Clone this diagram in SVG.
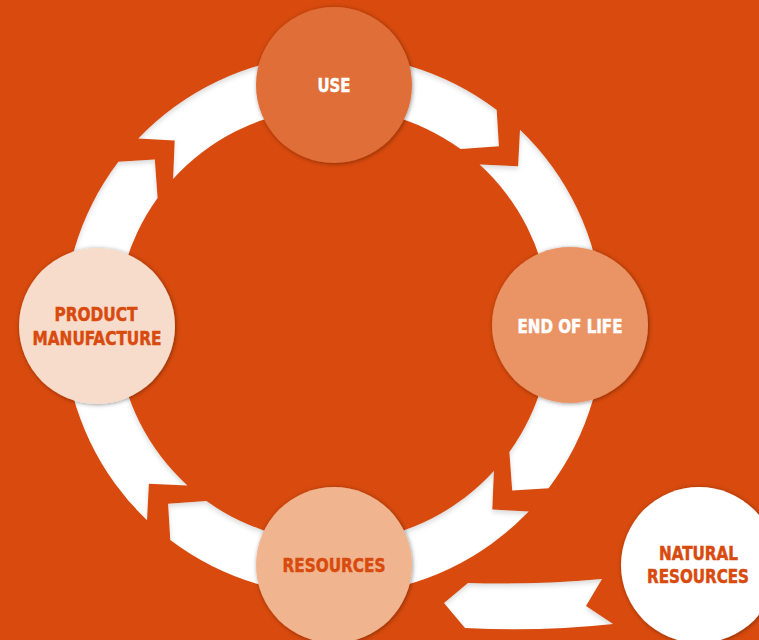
<svg xmlns="http://www.w3.org/2000/svg" width="759" height="640" viewBox="0 0 759 640">
<style>
.bg{fill:#D84A0D}
.arrow{fill:#FFFFFF;filter:url(#inset)}
.node circle{filter:url(#drop)}
.lbl{font-family:"Liberation Sans Narrow","DejaVu Sans Condensed","Liberation Sans",sans-serif;font-weight:bold;font-size:20px;text-anchor:middle;stroke-width:0.5px}
.light{fill:#FFFFFF;stroke:#FFFFFF}
.dark{fill:#D84A0D;stroke:#D84A0D}
.small{font-size:19.5px}
</style>
<defs>
<filter id="inset" x="-5%" y="-5%" width="110%" height="110%">
<feOffset in="SourceAlpha" dx="0" dy="3"/>
<feGaussianBlur stdDeviation="2.5" result="ob"/>
<feComposite in="SourceAlpha" in2="ob" operator="out" result="inv"/>
<feFlood flood-color="#000000" flood-opacity="0.3"/>
<feComposite in2="inv" operator="in" result="sh"/>
<feMerge><feMergeNode in="SourceGraphic"/><feMergeNode in="sh"/></feMerge>
</filter>
<filter id="drop" x="-10%" y="-10%" width="120%" height="120%">
<feDropShadow dx="0.8" dy="0.8" stdDeviation="2.2" flood-color="#000000" flood-opacity="0.4"/>
</filter>
</defs>
<rect class="bg" x="0" y="0" width="759" height="640"/>
<g id="connectors">
<path class="arrow" d="M138.3,138.5 A270,270 0 0 1 496.7,109.9 L498.9,146.3 L460.6,149.1 A217,217 0 0 0 173.1,178.9 L174.7,140.4 Z"/>
<path class="arrow" d="M520.0,129.8 A270,270 0 0 1 548.6,488.2 L512.2,490.4 L509.4,452.1 A217,217 0 0 0 479.6,164.6 L518.1,166.2 Z"/>
<path class="arrow" d="M528.7,511.5 A270,270 0 0 1 170.3,540.1 L168.1,503.7 L206.4,500.9 A217,217 0 0 0 493.9,471.1 L492.3,509.6 Z"/>
<path class="arrow" d="M147.0,520.2 A270,270 0 0 1 118.4,161.8 L154.8,159.6 L157.6,197.9 A217,217 0 0 0 187.4,485.4 L148.9,483.8 Z"/>
<path class="arrow" d="M602,579 L586,606 L613,624 Q540,632 465,628 L444,603 L468,583 Q535,585 602,579 Z"/>
</g>
<g id="use" class="node">
<circle cx="334" cy="85" r="78" fill="#E06E38"/>
<text class="lbl light" x="334" y="92" textLength="33" lengthAdjust="spacingAndGlyphs">USE</text>
</g>
<g id="end-of-life" class="node">
<circle cx="570" cy="325" r="78" fill="#EA9465"/>
<text class="lbl light" x="570" y="333" textLength="105" lengthAdjust="spacingAndGlyphs">END OF LIFE</text>
</g>
<g id="resources" class="node">
<circle cx="334" cy="565" r="78" fill="#F0B58F"/>
<text class="lbl dark" x="334" y="572" textLength="103" lengthAdjust="spacingAndGlyphs">RESOURCES</text>
</g>
<g id="product-manufacture" class="node">
<circle cx="97" cy="326" r="78" fill="#F7DCCB"/>
<text class="lbl dark" x="96" y="321" textLength="83" lengthAdjust="spacingAndGlyphs">PRODUCT</text>
<text class="lbl dark" x="97" y="345" textLength="129" lengthAdjust="spacingAndGlyphs">MANUFACTURE</text>
</g>
<g id="natural-resources" class="node">
<circle cx="699" cy="565" r="78" fill="#FFFFFF"/>
<text class="lbl dark small" x="698.5" y="560" textLength="79" lengthAdjust="spacingAndGlyphs">NATURAL</text>
<text class="lbl dark small" x="698" y="583" textLength="102" lengthAdjust="spacingAndGlyphs">RESOURCES</text>
</g>
</svg>
